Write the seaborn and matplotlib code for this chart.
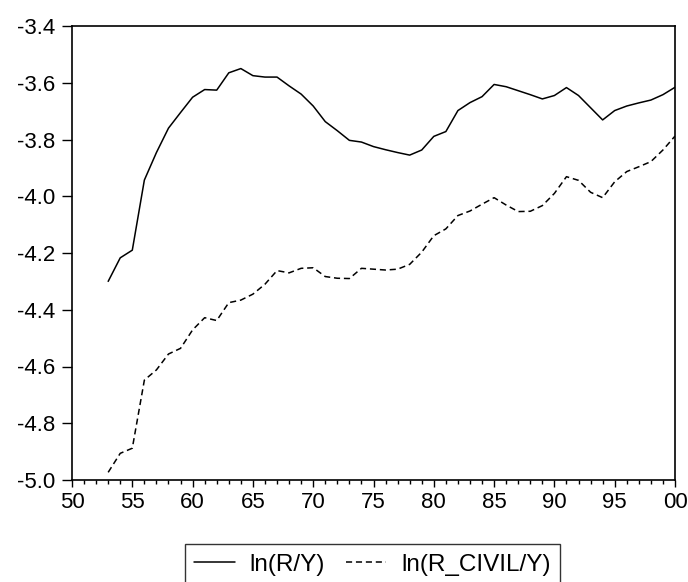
import numpy as np
import pandas as pd
import matplotlib
matplotlib.use("Agg")
import matplotlib.pyplot as plt
from matplotlib.ticker import MultipleLocator, FuncFormatter
import seaborn as sns

years = list(range(1953, 2001))
ln_r_y = [-4.30, -4.217, -4.19, -3.943, -3.846, -3.76, -3.705, -3.651, -3.624, -3.626,
          -3.565, -3.55, -3.575, -3.58, -3.58, -3.611, -3.64, -3.682, -3.737, -3.769,
          -3.803, -3.809, -3.825, -3.836, -3.846, -3.855, -3.837, -3.789, -3.772, -3.698,
          -3.67, -3.649, -3.606, -3.614, -3.628, -3.642, -3.657, -3.645, -3.617, -3.645,
          -3.688, -3.731, -3.698, -3.682, -3.671, -3.661, -3.642, -3.616]
ln_rcivil_y = [-4.973, -4.906, -4.888, -4.648, -4.612, -4.556, -4.536, -4.471, -4.428, -4.438,
               -4.375, -4.366, -4.345, -4.31, -4.262, -4.27, -4.254, -4.252, -4.283, -4.289,
               -4.29, -4.254, -4.257, -4.26, -4.257, -4.24, -4.197, -4.139, -4.115, -4.068,
               -4.052, -4.028, -4.005, -4.031, -4.054, -4.053, -4.033, -3.99, -3.931, -3.944,
               -3.986, -4.005, -3.949, -3.913, -3.896, -3.878, -3.837, -3.788]
series_names = ["ln(R/Y)", "ln(R_CIVIL/Y)"]

df = pd.concat([
    pd.DataFrame({"year": years, "value": ln_r_y, "series": series_names[0]}),
    pd.DataFrame({"year": years, "value": ln_rcivil_y, "series": series_names[1]}),
])

sns.set_style("ticks")
plt.rcParams["font.family"] = ["Liberation Sans", "DejaVu Sans"]
plt.rcParams["font.size"] = 16
plt.rcParams["text.color"] = "black"

fig = plt.figure(figsize=(6.88, 5.82), dpi=100)
ax = fig.add_axes([72/688, 1-480/582, (675-72)/688, (480-26)/582])

sns.lineplot(data=df, x="year", y="value", hue="series", style="series",
             palette={series_names[0]: "black", series_names[1]: "black"},
             dashes={series_names[0]: "", series_names[1]: (4, 2.5)},
             linewidth=1.1, ax=ax, legend=True)

ax.set_xlim(1950, 2000)
ax.set_ylim(-5.0, -3.4)
ax.xaxis.set_major_locator(MultipleLocator(5))
ax.xaxis.set_minor_locator(MultipleLocator(1))
ax.xaxis.set_major_formatter(FuncFormatter(lambda v, p: f"{int(round(v)) % 100:02d}"))
ax.yaxis.set_major_locator(MultipleLocator(0.2))
ax.yaxis.set_major_formatter(FuncFormatter(lambda v, p: f"{v:.1f}"))
ax.set_xlabel("")
ax.set_ylabel("")
for s in ax.spines.values():
    s.set_visible(True)
    s.set_linewidth(1.2)
    s.set_color("black")
ax.tick_params(axis="x", which="major", length=5, width=1, direction="out", pad=4, labelsize=16, colors="black")
ax.tick_params(axis="x", which="minor", length=3, width=1, direction="out", colors="black")
ax.tick_params(axis="y", which="major", length=7, width=1, direction="out", pad=5, labelsize=16, colors="black")
ax.grid(False)

handles, labels = ax.get_legend_handles_labels()
ax.get_legend().remove()
leg = fig.legend(handles, labels, loc="upper center", bbox_to_anchor=(372.5/688, 1-544/582),
                 ncol=2, frameon=True, fancybox=False, edgecolor="black",
                 handlelength=1.65, handletextpad=0.6, columnspacing=0.9,
                 borderpad=0.4, borderaxespad=0, fontsize=17.5, labelcolor="black")
leg.get_frame().set_linewidth(1.0)

fig.savefig("out.png", dpi=100, facecolor="white")
